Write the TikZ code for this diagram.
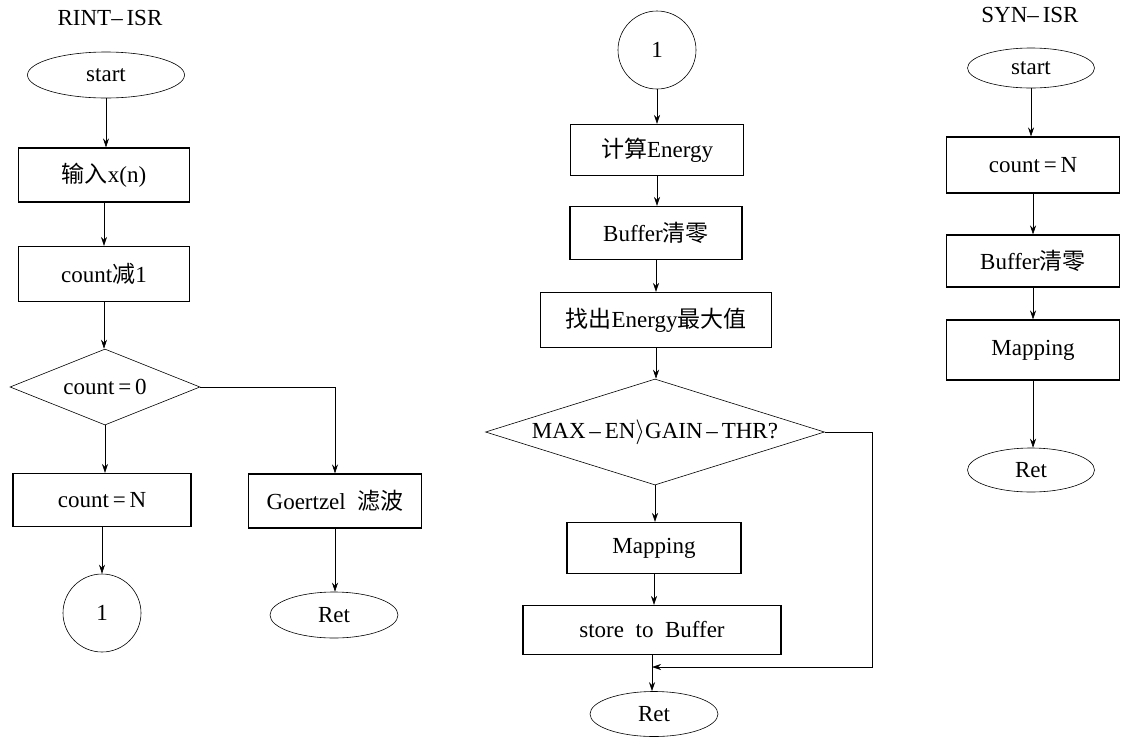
\documentclass[tikz,border=0pt]{standalone}
\usepackage{fontspec}
\setmainfont{Liberation Serif}
\newfontfamily\cjk{Noto Sans CJK SC}
\usetikzlibrary{shapes.geometric,arrows.meta}
\begin{document}
\begin{tikzpicture}[x=1pt,y=-1pt,
  every node/.style={font=\fontsize{23}{26}\selectfont, inner sep=0pt},
  box/.style={draw, line width=1.1pt},
  term/.style={draw, ellipse, line width=0.6pt},
  conn/.style={draw, circle, line width=0.6pt, minimum size=78pt},
  dec/.style={draw, diamond, line width=0.6pt},
  arr/.style={-{Stealth[length=9pt,width=6pt]}, line width=0.6pt}]
\useasboundingbox (0,0) rectangle (1122,740);

% left column
\node (t1) at (110,18) {RINT–\,ISR};
\node[term, minimum width=157pt, minimum height=46pt] (s1) at (106,75) {start};
\node[box, minimum width=171pt, minimum height=54pt] (a1) at (104,175) {{\cjk 输入}x(n)};
\node[box, minimum width=171pt, minimum height=55pt] (a2) at (104,274) {count{\cjk 减}1};
\node[dec, minimum width=190pt, minimum height=76pt, aspect=2.5] (d1) at (105,387) {count\,=\,0};
\node[box, minimum width=178pt, minimum height=53pt] (a3) at (102,500) {count\,=\,N};
\node[box, minimum width=173pt, minimum height=54pt] (g1) at (335,501) {Goertzel\ \ {\cjk 滤波}};
\node[conn] (c1) at (102,613) {1};
\node[term, minimum width=128pt, minimum height=46pt] (r1) at (334,615) {Ret};

\draw[arr] (s1.south) -- (s1.south |- a1.north);
\draw[arr] (a1.south) -- (a1.south |- a2.north);
\draw[arr] (a2.south) -- (a2.south |- d1.north);
\draw[arr] (d1.south) -- (d1.south |- a3.north);
\draw[arr] (d1.east) -| (g1.north);
\draw[arr] (a3.south) -- (a3.south |- c1.north);
\draw[arr] (g1.south) -- (g1.south |- r1.north);

% middle column
\node[conn] (c2) at (657,50) {1};
\node[box, minimum width=173pt, minimum height=51pt] (m1) at (657,150) {{\cjk 计算}Energy};
\node[box, minimum width=172pt, minimum height=53pt] (m2) at (656,233) {Buffer{\cjk 清零}};
\node[box, minimum width=231pt, minimum height=55pt] (m3) at (656,320) {{\cjk 找出}Energy{\cjk 最大值}};
\node[dec, minimum width=339pt, minimum height=106pt, aspect=3.2] (d2) at (655,432) {MAX\,–\,EN$\rangle$GAIN\,–\,THR?};
\node[box, minimum width=174pt, minimum height=51pt] (m4) at (654,548) {Mapping};
\node[box, minimum width=258pt, minimum height=49pt] (m5) at (652,630) {store\ \ to\ \ Buffer};
\node[term, minimum width=128pt, minimum height=45pt] (r2) at (654,714) {Ret};
\coordinate (k1) at (872,432);
\coordinate (k2) at (872,667);

\draw[arr] (c2.south) -- (c2.south |- m1.north);
\draw[arr] (m1.south) -- (m1.south |- m2.north);
\draw[arr] (m2.south) -- (m2.south |- m3.north);
\draw[arr] (m3.south) -- (m3.south |- d2.north);
\draw[arr] (d2.south) -- (d2.south |- m4.north);
\draw[arr] (m4.south) -- (m4.south |- m5.north);
\draw[arr] (m5.south) -- (m5.south |- r2.north);
\draw[arr] (d2.east) -- (k1) -- (k2) -- (m5.south |- k2);

% right column
\node (t3) at (1030,15) {SYN–\,ISR};
\node[term, minimum width=127pt, minimum height=40pt] (s3) at (1031,68) {start};
\node[box, minimum width=173pt, minimum height=56pt] (n1) at (1033,165) {count\,=\,N};
\node[box, minimum width=173pt, minimum height=52pt] (n2) at (1033,261) {Buffer{\cjk 清零}};
\node[box, minimum width=173pt, minimum height=60pt] (n3) at (1033,350) {Mapping};
\node[term, minimum width=127pt, minimum height=44pt] (r3) at (1031,470) {Ret};

\draw[arr] (s3.south) -- (s3.south |- n1.north);
\draw[arr] (n1.south) -- (n1.south |- n2.north);
\draw[arr] (n2.south) -- (n2.south |- n3.north);
\draw[arr] (n3.south) -- (n3.south |- r3.north);
\end{tikzpicture}
\end{document}
